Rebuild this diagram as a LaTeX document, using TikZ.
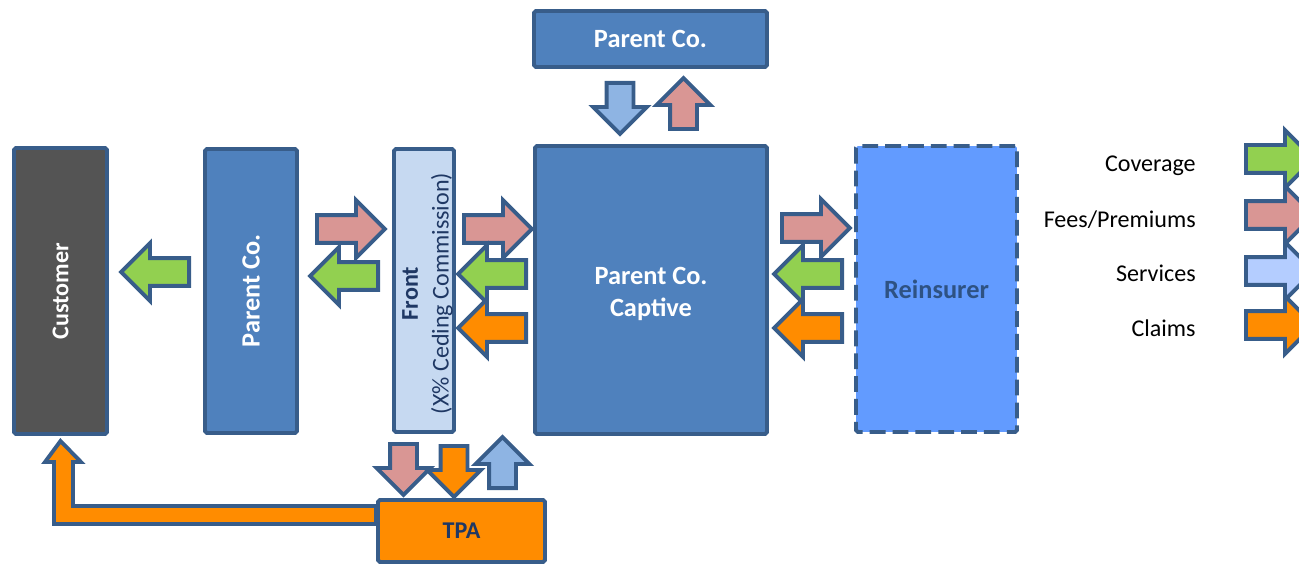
\documentclass[tikz,border=0pt]{standalone}
\usepackage{fontspec}
\setmainfont{Carlito}
\usetikzlibrary{shapes.arrows}

\definecolor{edge}{RGB}{56,93,138}
\definecolor{custgray}{RGB}{84,84,84}
\definecolor{coblue}{RGB}{79,129,189}
\definecolor{frontblue}{RGB}{198,217,241}
\definecolor{reinsblue}{RGB}{98,155,255}
\definecolor{claimorange}{RGB}{255,140,0}
\definecolor{covgreen}{RGB}{146,208,80}
\definecolor{feepink}{RGB}{217,150,148}
\definecolor{svcblue}{RGB}{142,180,227}
\definecolor{svclight}{RGB}{180,205,255}
\definecolor{navy}{RGB}{31,56,100}
\definecolor{reinstext}{RGB}{46,82,131}

\newcommand{\bigtxt}{\fontsize{15}{18}\selectfont\bfseries}
\newcommand{\midtxt}{\fontsize{13.7}{17.6}\selectfont}

\tikzset{
  box/.style={draw=edge, line width=2.2pt, rounded corners=1pt, inner sep=0pt},
  harr/.style={single arrow, draw=edge, line width=2.2pt, inner xsep=0pt,
    inner ysep=0.24cm, minimum width=0pt, minimum height=1.36cm,
    single arrow head extend=0.3cm, anchor=tail},
  varr/.style={single arrow, draw=edge, line width=2.2pt, inner xsep=0pt,
    inner ysep=0.23cm, minimum width=0pt, minimum height=1.02cm,
    single arrow head extend=0.27cm, anchor=tail},
  legtext/.style={anchor=base east, inner sep=0pt, font=\midtxt},
}

\begin{document}
\begin{tikzpicture}[x=0.02cm, y=-0.02cm]
  \clip (0,0) rectangle (1299,564);
  % boxes
  \node (CU) [box, fill=custgray, text=white, rotate=90, font=\midtxt\bfseries,
    minimum width=5.72cm, minimum height=1.86cm] at (60.5,291) {Customer};
  \node (PC) [box, fill=coblue, text=white, rotate=90, font=\bigtxt,
    minimum width=5.68cm, minimum height=1.84cm] at (251,291) {Parent Co.};
  \node (FR) [box, fill=frontblue, minimum width=1.2cm, minimum height=5.66cm] at (424,290.5) {};
  \node (FRt) [rotate=90, text=navy, align=center, font=\midtxt]
    at (427.5,293.5) {\textbf{Front}\\(X\% Ceding Commission)};
  \node (CA) [box, fill=coblue, minimum width=4.64cm, minimum height=5.76cm] at (651,290) {};
  \node (CAt) [text=white, align=center, font=\bigtxt] at (651,294) {Parent Co.\\Captive};
  \node (RE) [box, fill=reinsblue, text=reinstext, dash pattern=on 9pt off 4pt, font=\bigtxt,
    minimum width=3.22cm, minimum height=5.72cm] at (936.5,289) {Reinsurer};
  \node (PT) [box, fill=coblue, text=white, font=\bigtxt,
    minimum width=4.66cm, minimum height=1.12cm] at (650.5,39) {Parent Co.};
  \node (TP) [box, fill=claimorange, text=navy, font=\midtxt\bfseries,
    minimum width=3.34cm, minimum height=1.24cm] at (461.5,531) {TPA};

  % flow arrows (placed by their tails)
  \node (A1) [harr, fill=covgreen, rotate=180] at (191,272) {};
  \node (A2) [harr, fill=feepink] at (315,229) {};
  \node (A3) [harr, fill=covgreen, rotate=180] at (380,276) {};
  \node (A4) [harr, fill=feepink] at (462,229) {};
  \node (A5) [harr, fill=covgreen, rotate=180] at (528,274) {};
  \node (A6) [harr, fill=claimorange, rotate=180] at (528,328) {};
  \node (A7) [harr, fill=feepink] at (780,228) {};
  \node (A8) [harr, fill=covgreen, rotate=180] at (844,274) {};
  \node (A9) [harr, fill=claimorange, rotate=180] at (844,328) {};
  \node (V1) [varr, fill=svcblue, rotate=-90] at (620,81) {};
  \node (V2) [varr, fill=feepink, rotate=90] at (683.5,131) {};
  \node (V3) [varr, fill=feepink, rotate=-90] at (403.5,442) {};
  \node (V4) [varr, fill=claimorange, rotate=-90] at (454,444) {};
  \node (V5) [varr, fill=svcblue, rotate=90] at (502.5,490) {};

  % claims from TPA back to customer
  \draw[edge, line width=2.2pt, fill=claimorange, line join=miter]
    (TP.west |- 0,506) -- (73,506) -- (73,462) -- (81,462) -- (CU.west |- 0,441)
    -- (45,462) -- (54,462) -- (54,524) -- (TP.west |- 0,524) -- cycle;

  % legend
  \node (L1) [legtext] at (1196,172) {Coverage};
  \node (L2) [legtext] at (1196,228) {Fees/Premiums};
  \node (L3) [legtext] at (1196,282) {Services};
  \node (L4) [legtext] at (1196,337) {Claims};
  \node (K1) [harr, fill=covgreen] at (1244,159) {};
  \node (K2) [harr, fill=feepink] at (1244,215) {};
  \node (K3) [harr, fill=svclight] at (1244,271) {};
  \node (K4) [harr, fill=claimorange] at (1244,325) {};
\end{tikzpicture}
\end{document}
